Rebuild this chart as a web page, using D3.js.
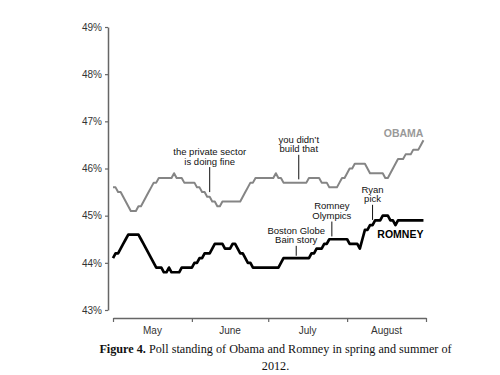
<!DOCTYPE html>
<html lang="en">
<meta charset="utf-8">
<script src="https://d3js.org/d3.v7.min.js"></script>
<head>
    <style type="text/css">
        body { margin: 0; background: white; }
        .tick text { font-family: "Liberation Sans", Arial, sans-serif; font-size: 10px; fill: #333; }
        .note { font-family: "Liberation Sans", Arial, sans-serif; font-size: 9.5px; fill: #111; }
        .caption { font-family: "Liberation Serif", serif; font-size: 12.2px; fill: #111; }
    </style>
</head>
<body>
<div id="chart"></div>
<script>

// daily poll averages, May 1 - Aug 31 2012
const startDay = new Date(2012, 4, 1);
const obama = [
    45.6, 45.6, 45.5, 45.5, 45.4, 45.3, 45.2, 45.1, 45.1, 45.1,
    45.2, 45.2, 45.3, 45.4, 45.5, 45.6, 45.7, 45.7, 45.8, 45.8,
    45.8, 45.8, 45.8, 45.8, 45.9, 45.8, 45.8, 45.8, 45.7, 45.7,
    45.7, 45.7, 45.7, 45.6, 45.6, 45.5, 45.5, 45.4, 45.4, 45.3,
    45.3, 45.2, 45.2, 45.3, 45.3, 45.3, 45.3, 45.3, 45.3, 45.3,
    45.3, 45.4, 45.5, 45.6, 45.7, 45.7, 45.8, 45.8, 45.8, 45.8,
    45.8, 45.8, 45.8, 45.8, 45.9, 45.8, 45.8, 45.7, 45.7, 45.7,
    45.7, 45.7, 45.7, 45.7, 45.7, 45.7, 45.7, 45.8, 45.8, 45.8,
    45.8, 45.8, 45.7, 45.7, 45.7, 45.6, 45.6, 45.6, 45.6, 45.7,
    45.8, 45.8, 45.9, 46.0, 46.0, 46.1, 46.1, 46.1, 46.1, 46.1,
    46.0, 45.9, 45.9, 45.9, 45.9, 45.9, 45.9, 45.8, 45.8, 45.9,
    46.0, 46.1, 46.2, 46.2, 46.2, 46.3, 46.3, 46.3, 46.4, 46.4,
    46.4, 46.5, 46.6
];
const romney = [
    44.1, 44.2, 44.2, 44.3, 44.4, 44.5, 44.6, 44.6, 44.6, 44.6,
    44.6, 44.5, 44.4, 44.3, 44.2, 44.1, 44.0, 43.9, 43.9, 43.9,
    43.8, 43.8, 43.9, 43.8, 43.8, 43.8, 43.8, 43.9, 43.9, 43.9,
    43.9, 43.9, 44.0, 44.0, 44.1, 44.1, 44.2, 44.2, 44.2, 44.3,
    44.4, 44.4, 44.4, 44.4, 44.3, 44.3, 44.3, 44.4, 44.4, 44.3,
    44.2, 44.2, 44.1, 44.0, 44.0, 43.9, 43.9, 43.9, 43.9, 43.9,
    43.9, 43.9, 43.9, 43.9, 43.9, 43.9, 44.0, 44.1, 44.1, 44.1,
    44.1, 44.1, 44.1, 44.1, 44.1, 44.1, 44.1, 44.1, 44.2, 44.2,
    44.3, 44.3, 44.3, 44.4, 44.4, 44.5, 44.5, 44.5, 44.5, 44.5,
    44.5, 44.5, 44.5, 44.4, 44.4, 44.4, 44.4, 44.3, 44.5, 44.7,
    44.7, 44.8, 44.8, 44.9, 44.9, 44.9, 45.0, 45.0, 45.0, 44.9,
    44.9, 44.8, 44.9, 44.9, 44.9, 44.9, 44.9, 44.9, 44.9, 44.9,
    44.9, 44.9, 44.9
];
const yTicks = [43, 44, 45, 46, 47, 48, 49];
const months = ["May", "June", "July", "August"];

// events: date, text lines, pointer from/to (poll %)
const notes = [
    { date: new Date(2012, 5, 8), lines: ["the private sector", "is doing fine"], top: 46.03, bottom: 45.5 },
    { date: new Date(2012, 6, 13), lines: ["you didn\u2019t", "build that"], top: 46.29, bottom: 45.77 },
    { date: new Date(2012, 6, 12), lines: ["Boston Globe", "Bain story"], top: 44.36, bottom: 44.15 },
    { date: new Date(2012, 6, 26), lines: ["Romney", "Olympics"], top: 44.875, bottom: 44.56 },
    { date: new Date(2012, 7, 11), lines: ["Ryan", "pick"], top: 45.23, bottom: 44.91 }
];

const days = obama.map((v, i) => d3.timeDay.offset(startDay, i));

const svg = d3.select("#chart")
    .append("svg")
    .attr("width", 500)
    .attr("height", 375);

const x = d3.scaleTime()
    .domain([startDay, new Date(2012, 8, 1)])
    .range([113, 426]);
const y = d3.scaleLinear()
    .domain([43, 49])
    .range([310, 27]);

// y axis
const yAxis = svg.append("g")
    .attr("transform", "translate(108,0)")
    .call(d3.axisLeft(y).tickValues(yTicks).tickFormat(d => d + "%").tickSize(3).tickSizeOuter(0));
yAxis.select(".domain").attr("stroke", "#666").attr("stroke-width", 1.5);
yAxis.selectAll(".tick line").attr("stroke", "#666").attr("stroke-width", 1.2);
yAxis.selectAll(".tick text").attr("x", -6);

// x axis, month boundaries
const monthStarts = d3.timeMonth.range(startDay, new Date(2012, 8, 2));
const xAxis = svg.append("g")
    .attr("transform", "translate(0,318)")
    .call(d3.axisBottom(x).tickValues(monthStarts).tickFormat("").tickSize(4).tickSizeOuter(0));
xAxis.select(".domain").attr("stroke", "#666").attr("stroke-width", 1.5);
xAxis.selectAll(".tick line").attr("stroke", "#666").attr("stroke-width", 1.2);

svg.selectAll(".month")
    .data(months)
    .join("text")
    .attr("x", (d, i) => (x(monthStarts[i]) + x(monthStarts[i + 1])) / 2)
    .attr("y", 334)
    .attr("text-anchor", "middle")
    .style("font-family", "'Liberation Sans', Arial, sans-serif")
    .style("font-size", "10px")
    .style("fill", "#333")
    .text(d => d);

const line = d3.line()
    .x((d, i) => x(days[i]))
    .y(d => y(d));

svg.append("path")
    .datum(obama)
    .attr("fill", "none")
    .attr("stroke", "#858585")
    .attr("stroke-width", 2)
    .attr("stroke-linejoin", "round")
    .attr("d", line);

svg.append("path")
    .datum(romney)
    .attr("fill", "none")
    .attr("stroke", "#000")
    .attr("stroke-width", 2.7)
    .attr("stroke-linejoin", "round")
    .attr("d", line);

// event notes
notes.forEach(n => {
    const nx = x(n.date);
    svg.append("line")
        .attr("x1", nx).attr("x2", nx)
        .attr("y1", y(n.top)).attr("y2", y(n.bottom))
        .attr("stroke", "#111")
        .attr("stroke-width", 1);
    const t = svg.append("text")
        .attr("class", "note")
        .attr("text-anchor", "middle");
    n.lines.forEach((l, i) => {
        t.append("tspan")
            .attr("x", nx)
            .attr("y", y(n.top) - 2.5 - (n.lines.length - 1 - i) * 9.6)
            .text(l);
    });
});

// series labels
const last = obama.length - 1;
svg.append("text")
    .attr("x", x(days[last]))
    .attr("y", y(obama[last]) - 3)
    .attr("text-anchor", "end")
    .style("font-family", "'Liberation Sans', Arial, sans-serif")
    .style("font-size", "10.5px")
    .style("font-weight", "bold")
    .style("fill", "#999")
    .text("OBAMA");
svg.append("text")
    .attr("x", x(days[last]))
    .attr("y", y(romney[last]) + 18)
    .attr("text-anchor", "end")
    .style("font-family", "'Liberation Sans', Arial, sans-serif")
    .style("font-size", "10.5px")
    .style("font-weight", "bold")
    .style("fill", "#000")
    .text("ROMNEY");

// caption
const cap = svg.append("text")
    .attr("class", "caption")
    .attr("x", 275.5)
    .attr("y", 353)
    .attr("text-anchor", "middle");
cap.append("tspan").style("font-weight", "bold").text("Figure 4.");
cap.append("tspan").text(" Poll standing of Obama and Romney in spring and summer of");
svg.append("text")
    .attr("class", "caption")
    .attr("x", 275.5)
    .attr("y", 370)
    .attr("text-anchor", "middle")
    .text("2012.");

</script>
</body>
</html>
